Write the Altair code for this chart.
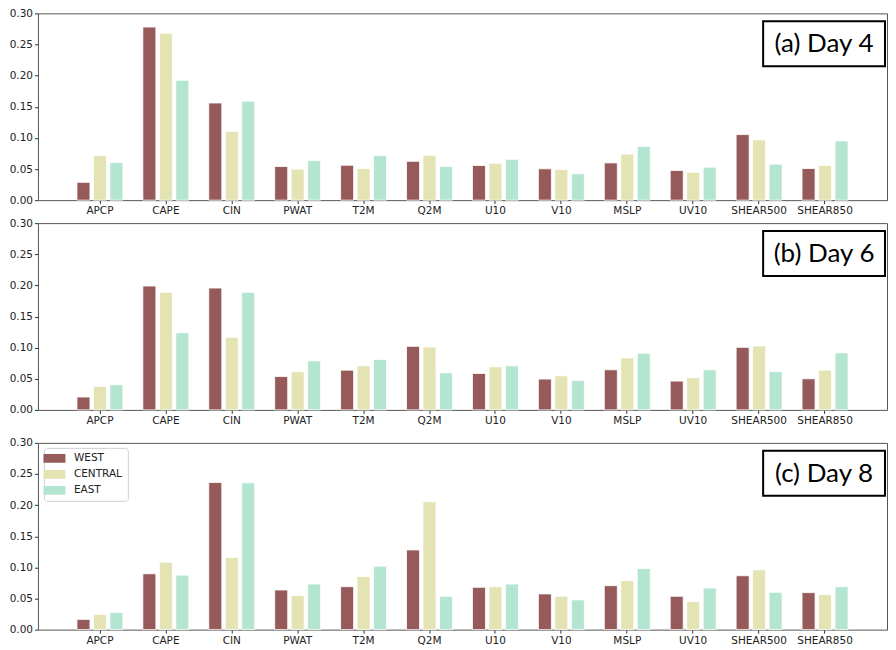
import altair as alt
import pandas as pd

variables = ["APCP", "CAPE", "CIN", "PWAT", "T2M", "Q2M", "U10", "V10", "MSLP", "UV10", "SHEAR500", "SHEAR850"]
regions = ["WEST", "CENTRAL", "EAST"]
colors = ["#955a59", "#e4e3b3", "#b3e5d1"]
panel_labels = ["(a) Day 4", "(b) Day 6", "(c) Day 8"]

day4_west = [0.0286, 0.278, 0.156, 0.054, 0.056, 0.0624, 0.0556, 0.0503, 0.0598, 0.0476, 0.1053, 0.0508]
day4_central = [0.0714, 0.268, 0.1106, 0.0497, 0.0508, 0.072, 0.0593, 0.0492, 0.074, 0.0444, 0.0968, 0.0556]
day4_east = [0.0603, 0.1926, 0.159, 0.0635, 0.0714, 0.054, 0.0656, 0.0423, 0.0862, 0.0529, 0.0577, 0.0952]

day6_west = [0.0207, 0.199, 0.1957, 0.0537, 0.0638, 0.1021, 0.0585, 0.0495, 0.0644, 0.0463, 0.1005, 0.050]
day6_central = [0.0378, 0.1888, 0.1165, 0.0612, 0.0707, 0.101, 0.0691, 0.0548, 0.0835, 0.0516, 0.1027, 0.0638]
day6_east = [0.0404, 0.1239, 0.1888, 0.0787, 0.0809, 0.0596, 0.0707, 0.0473, 0.091, 0.0644, 0.0617, 0.0915]

day8_west = [0.0165, 0.0897, 0.2363, 0.0637, 0.069, 0.128, 0.068, 0.0574, 0.0706, 0.0536, 0.0866, 0.0595]
day8_central = [0.0244, 0.1083, 0.1158, 0.0547, 0.0855, 0.2055, 0.069, 0.0536, 0.0786, 0.0451, 0.0961, 0.0563]
day8_east = [0.0276, 0.0876, 0.2358, 0.0733, 0.102, 0.0536, 0.0733, 0.0478, 0.0982, 0.0669, 0.060, 0.069]

y_ticks = [0.0, 0.05, 0.10, 0.15, 0.20, 0.25, 0.30]

panels = [
    (day4_west, day4_central, day4_east),
    (day6_west, day6_central, day6_east),
    (day8_west, day8_central, day8_east),
]

W, H = 850, 187
FONT = "DejaVu Sans"


def make_panel(idx, series, show_legend):
    rows = []
    for reg, vals in zip(regions, series):
        for v, val in zip(variables, vals):
            rows.append({"variable": v, "region": reg, "value": val})
    df = pd.DataFrame(rows)

    legend = None
    if show_legend:
        legend = alt.Legend(
            title=None, orient="none", legendX=6, legendY=5,
            symbolType="M-2,-0.8L2,-0.8L2,0.8L-2,0.8Z", symbolSize=121,
            symbolStrokeWidth=0, symbolOpacity=1,
            labelFont=FONT, labelFontSize=10.5, labelColor="#222",
            labelOffset=14, rowPadding=5, padding=5,
            strokeColor="#d0d0d0", fillColor="white", cornerRadius=3,
        )

    bars = alt.Chart(df).mark_bar(stroke="white", strokeWidth=0.8).encode(
        x=alt.X("variable:N", sort=variables, title=None,
                scale=alt.Scale(paddingInner=0, paddingOuter=0.44),
                axis=alt.Axis(labelAngle=0, labelFont=FONT, labelFontSize=10.5,
                              labelColor="#222", tickSize=3.5, tickColor="#333",
                              domain=False, labelPadding=2)),
        xOffset=alt.XOffset("region:N", sort=regions,
                            scale=alt.Scale(paddingInner=0.21, paddingOuter=0.605)),
        y=alt.Y("value:Q", title=None,
                scale=alt.Scale(domain=[0, 0.30], nice=False),
                axis=alt.Axis(values=y_ticks, format=".2f", labelFont=FONT,
                              labelFontSize=10.5, labelColor="#222", tickSize=3.5,
                              tickColor="#333", domain=False, grid=False,
                              labelPadding=2)),
        color=alt.Color("region:N", sort=regions,
                        scale=alt.Scale(domain=regions, range=colors),
                        legend=legend),
    )

    lab_df = pd.DataFrame({"label": [panel_labels[idx]]})
    box = alt.Chart(lab_df).mark_rect(fill="white", stroke="black", strokeWidth=2).encode(
        x=alt.value(726), x2=alt.value(848), y=alt.value(8), y2=alt.value(53)
    )
    txt = alt.Chart(lab_df).mark_text(font="Lato", fontSize=26, color="black",
                                      align="center", baseline="middle").encode(
        x=alt.value(787), y=alt.value(31), text="label:N"
    )
    return alt.layer(bars, box, txt).properties(width=W, height=H)


p1 = make_panel(0, panels[0], False)
p2 = make_panel(1, panels[1], False)
p3 = make_panel(2, panels[2], True)

top = alt.vconcat(p1, p2, spacing=0)
chart = alt.vconcat(top, p3, spacing=10).resolve_legend(color="independent").properties(
    padding={"left": 0, "top": -1, "right": 0, "bottom": 0}
).configure_view(stroke="#555", strokeWidth=1)

chart.save("out.html", embed_options={"renderer": "svg", "actions": False})
